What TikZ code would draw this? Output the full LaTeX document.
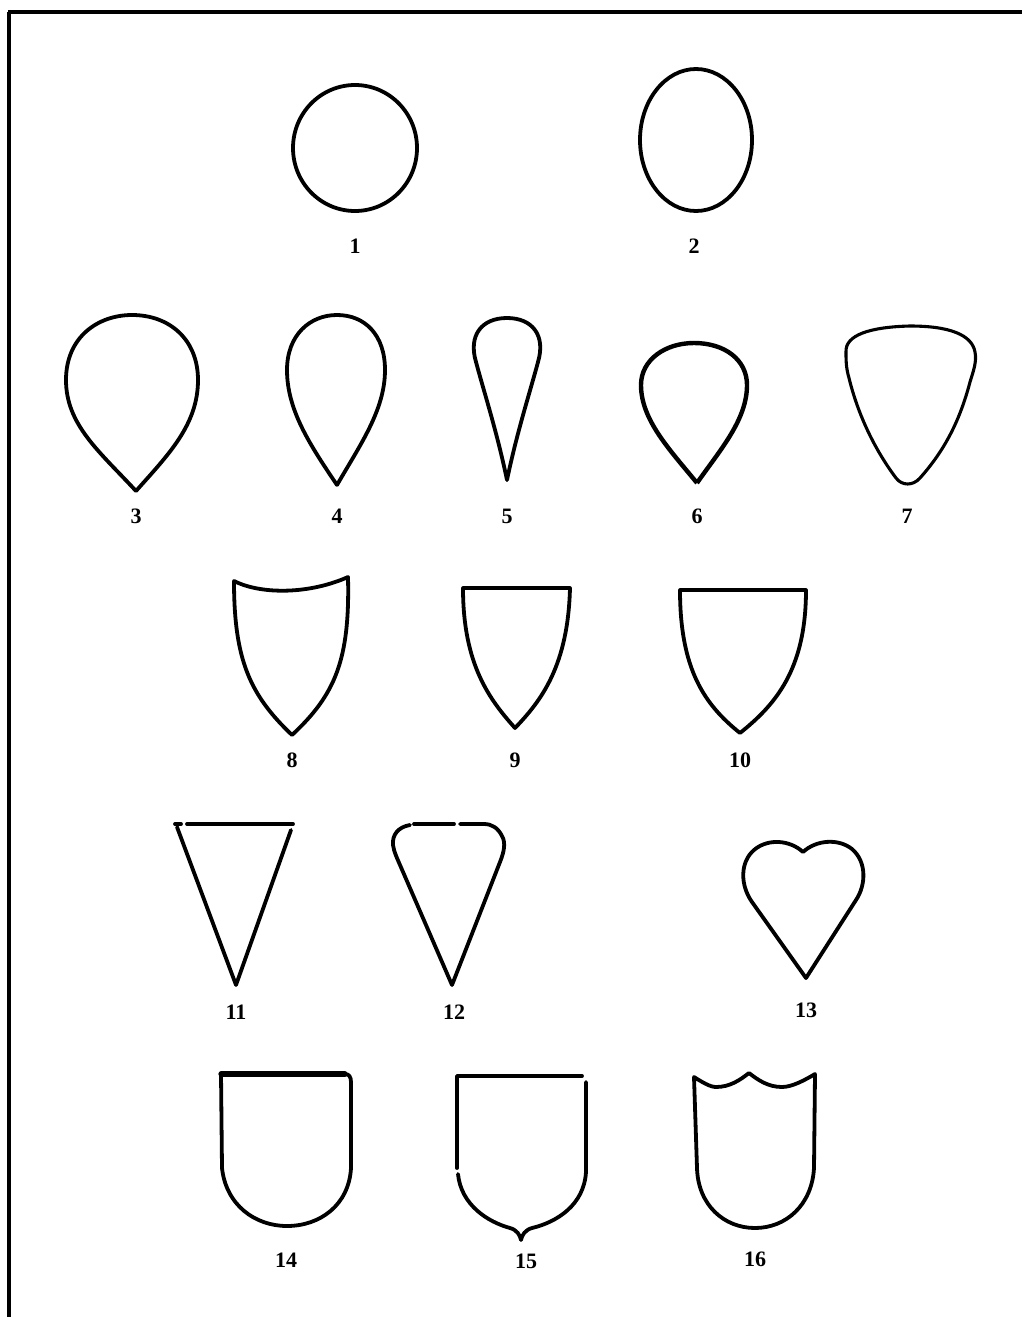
\documentclass[tikz,border=0pt]{standalone}
\usepackage{fontspec}
\setmainfont{Liberation Serif}
\begin{document}
\begin{tikzpicture}[x=1pt,y=-1pt,
  outline/.style={line width=3.8pt,line join=round,line cap=round},
  thin outline/.style={line width=3.1pt,line join=round,line cap=round},
  num/.style={font=\bfseries\fontsize{22}{22}\selectfont,inner sep=0pt}]
\useasboundingbox (0,0) rectangle (1022,1317);
% frame
\draw[line width=3.2pt] (8,12) -- (1022,12);
\draw[line width=3.2pt] (9,12) -- (9,1317);

% 1 circle, 2 oval
\draw[outline] (355,148) ellipse [x radius=62, y radius=63];
\draw[outline] (696,140) ellipse [x radius=56, y radius=71];

% 3
\draw[outline] (136,491) .. controls (100,452) and (66,425) .. (66,380)
  .. controls (66,337) and (98,315) .. (132,315)
  .. controls (170,315) and (198,340) .. (198,380)
  .. controls (198,425) and (168,455) .. (136,491);
% 4
\draw[outline] (337,485) .. controls (310,445) and (287,410) .. (287,370)
  .. controls (287,335) and (310,315) .. (337,315)
  .. controls (365,315) and (385,335) .. (385,370)
  .. controls (385,410) and (360,445) .. (337,485);
% 5
\draw[outline] (507,480) .. controls (497,432) and (484,392) .. (476,362)
  .. controls (468,335) and (482,318) .. (507,318)
  .. controls (532,318) and (546,335) .. (538,362)
  .. controls (530,392) and (517,432) .. (507,480);
% 6
\draw[line width=4.4pt,line join=round] (697,483) .. controls (670,450) and (641,420) .. (641,385)
  .. controls (641,360) and (665,343) .. (694,343)
  .. controls (725,343) and (747,360) .. (747,385)
  .. controls (747,420) and (720,450) .. (697,483);
% 7
\draw[thin outline] (846,352) .. controls (845,335) and (870,327) .. (910,326)
  .. controls (950,326) and (972,335) .. (975,352)
  .. controls (977,362) and (973,372) .. (970,382)
  .. controls (960,420) and (945,450) .. (920,478)
  .. controls (913,486) and (902,486) .. (896,478)
  .. controls (875,450) and (858,415) .. (849,378)
  .. controls (846,368) and (846,360) .. (846,352) -- cycle;

% 8
\draw[outline] (234,581) .. controls (262,595) and (310,594) .. (348,577)
  .. controls (350,660) and (335,695) .. (292,735)
  .. controls (250,695) and (234,660) .. (234,581) -- cycle;
% 9
\draw[outline] (463,588) -- (570,588)
  .. controls (568,665) and (542,700) .. (515,728)
  .. controls (490,700) and (463,665) .. (463,588) -- cycle;
% 10
\draw[outline] (680,590) -- (806,590)
  .. controls (806,670) and (775,705) .. (740,733)
  .. controls (705,705) and (680,670) .. (680,590) -- cycle;

% 11
\draw[outline] (175,824) -- (181,824);
\draw[outline] (187,824) -- (293,824);
\draw[outline] (177,827) -- (236,985) -- (291,830);

% 12
\draw[outline] (410,825) .. controls (398,827) and (392,835) .. (393,845)
  .. controls (394,852) and (397,858) .. (400,865) -- (452,985)
  -- (500,862) .. controls (504,852) and (506,843) .. (502,836)
  .. controls (498,828) and (492,824) .. (484,824) -- (460,824);
\draw[outline] (414,824) -- (454,824);

% 13 heart
\draw[outline] (806,978) -- (752,902)
  .. controls (740,885) and (740,862) .. (754,850)
  .. controls (768,838) and (790,840) .. (803,852)
  .. controls (816,840) and (838,838) .. (852,849)
  .. controls (867,862) and (866,885) .. (856,900) -- cycle;

% 14
\draw[line width=5.2pt,line cap=round] (221,1074) -- (345,1074);
\draw[outline] (221,1074) -- (222,1168)
  .. controls (226,1205) and (255,1226) .. (287,1226)
  .. controls (320,1226) and (349,1205) .. (351,1168)
  -- (351,1082) .. controls (351,1077) and (349,1074) .. (345,1074);

% 15
\draw[outline] (582,1076) -- (457,1076) -- (457,1168);
\draw[outline] (586,1082) -- (586,1172)
  .. controls (584,1205) and (557,1222) .. (532,1228)
  .. controls (525,1230) and (522,1235) .. (521,1240)
  .. controls (520,1235) and (517,1230) .. (510,1228)
  .. controls (488,1222) and (461,1205) .. (458,1174);

% 16
\draw[outline] (694,1077) .. controls (702,1082) and (710,1087) .. (716,1087)
  .. controls (730,1087) and (740,1080) .. (749,1073)
  .. controls (758,1080) and (768,1087) .. (782,1087)
  .. controls (792,1087) and (805,1080) .. (815,1074)
  -- (814,1168)
  .. controls (812,1205) and (786,1228) .. (755,1228)
  .. controls (724,1228) and (698,1205) .. (697,1168) -- cycle;

% labels
\node[num] (l1) at (355,246) {1};
\node[num] (l2) at (694,246) {2};
\node[num] (l3) at (136,516) {3};
\node[num] (l4) at (337,516) {4};
\node[num] (l5) at (507,516) {5};
\node[num] (l6) at (697,516) {6};
\node[num] (l7) at (907,516) {7};
\node[num] (l8) at (292,760) {8};
\node[num] (l9) at (515,760) {9};
\node[num] (l10) at (740,760) {10};
\node[num] (l11) at (236,1012) {11};
\node[num] (l12) at (454,1012) {12};
\node[num] (l13) at (806,1010) {13};
\node[num] (l14) at (286,1260) {14};
\node[num] (l15) at (526,1261) {15};
\node[num] (l16) at (755,1259) {16};
\end{tikzpicture}
\end{document}
